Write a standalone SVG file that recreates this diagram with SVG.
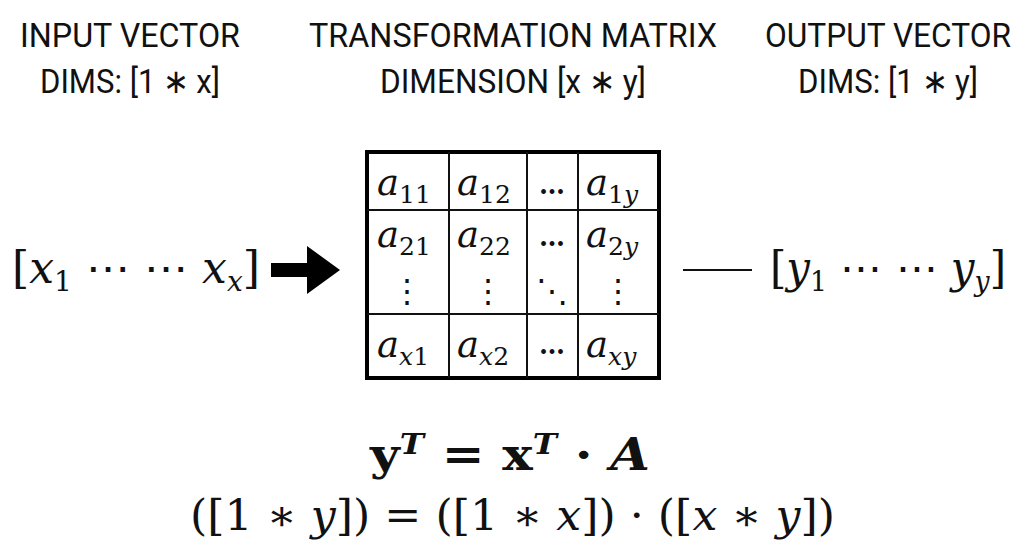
<svg xmlns="http://www.w3.org/2000/svg" width="1024" height="559" viewBox="0 0 1024 559">
<style>
.h{font-family:Roboto,"Liberation Sans",sans-serif;font-size:34px;fill:#111;text-anchor:middle}
.m{font-family:"DejaVu Serif",serif;font-style:italic;fill:#111}
.c{font-size:37px}
.s{font-size:25px}
.g{fill:none;stroke:#111;stroke-width:2}
</style>
<rect width="1024" height="559" fill="#fff"/>
<g id="input-label"><text class="h" x="130" y="47" textLength="220" lengthAdjust="spacingAndGlyphs">INPUT VECTOR</text><text class="h" x="130" y="93" textLength="180" lengthAdjust="spacingAndGlyphs">DIMS: [1 ∗ x]</text></g>
<g id="matrix-label"><text class="h" x="513" y="47" textLength="408" lengthAdjust="spacingAndGlyphs">TRANSFORMATION MATRIX</text><text class="h" x="513" y="93" textLength="266" lengthAdjust="spacingAndGlyphs">DIMENSION [x ∗ y]</text></g>
<g id="output-label"><text class="h" x="888" y="47" textLength="246" lengthAdjust="spacingAndGlyphs">OUTPUT VECTOR</text><text class="h" x="888" y="93" textLength="180" lengthAdjust="spacingAndGlyphs">DIMS: [1 ∗ y]</text></g>
<g id="input-vector"><text class="m" x="12" y="283" font-size="44" textLength="248" lengthAdjust="spacingAndGlyphs"><tspan font-style="normal">[</tspan>x<tspan font-size="28" dy="8" font-style="normal">1</tspan><tspan dy="-8" font-style="normal"> ⋯ ⋯ </tspan>x<tspan font-size="28" dy="8">x</tspan><tspan dy="-8" font-style="normal">]</tspan></text></g>
<g id="connectors">
<path d="M271 263 H307 V246 L340 270 L307 294 V277 H271 Z" fill="#000"/>
<line x1="683" y1="270" x2="752" y2="270" stroke="#111" stroke-width="2"/>
</g>
<g id="matrix">
<rect x="367" y="152" width="292" height="226" fill="#fff" stroke="#000" stroke-width="4"/>
<path class="g" d="M449 152V378M527 152V378M578 152V378M367 210H659M367 314H659"/>
<g class="m c">
<text x="377" y="195">a<tspan class="s" dy="8" font-style="normal">11</tspan></text>
<text x="457" y="195">a<tspan class="s" dy="8" font-style="normal">12</tspan></text>
<text x="552" y="194" font-style="normal" font-size="26" font-weight="bold" text-anchor="middle">…</text>
<text x="586" y="195">a<tspan class="s" dy="8" font-style="normal">1</tspan><tspan class="s">y</tspan></text>
<text x="377" y="247">a<tspan class="s" dy="8" font-style="normal">21</tspan></text>
<text x="457" y="247">a<tspan class="s" dy="8" font-style="normal">22</tspan></text>
<text x="552" y="246" font-style="normal" font-size="26" font-weight="bold" text-anchor="middle">…</text>
<text x="586" y="247">a<tspan class="s" dy="8" font-style="normal">2</tspan><tspan class="s">y</tspan></text>
<text x="407" y="302" font-style="normal" font-size="32" text-anchor="middle">⋮</text>
<text x="488" y="302" font-style="normal" font-size="32" text-anchor="middle">⋮</text>
<text x="552" y="302" font-style="normal" font-size="32" text-anchor="middle">⋱</text>
<text x="618" y="302" font-style="normal" font-size="32" text-anchor="middle">⋮</text>
<text x="377" y="357">a<tspan class="s" dy="8">x</tspan><tspan class="s" font-style="normal">1</tspan></text>
<text x="457" y="357">a<tspan class="s" dy="8">x</tspan><tspan class="s" font-style="normal">2</tspan></text>
<text x="552" y="354" font-style="normal" font-size="26" font-weight="bold" text-anchor="middle">…</text>
<text x="586" y="357">a<tspan class="s" dy="8">xy</tspan></text>
</g>
</g>
<g id="output-vector"><text class="m" x="770" y="283" font-size="44" textLength="236" lengthAdjust="spacingAndGlyphs"><tspan font-style="normal">[</tspan>y<tspan font-size="28" dy="8" font-style="normal">1</tspan><tspan dy="-8" font-style="normal"> ⋯ ⋯ </tspan>y<tspan font-size="28" dy="8">y</tspan><tspan dy="-8" font-style="normal">]</tspan></text></g>
<g id="equation">
<text x="370" y="470" font-family="DejaVu Serif,serif" font-size="44" fill="#111" font-weight="bold" textLength="280" lengthAdjust="spacingAndGlyphs">y<tspan font-size="28" dy="-16" font-style="italic">T</tspan><tspan dy="16"> = x</tspan><tspan font-size="28" dy="-16" font-style="italic">T</tspan><tspan dy="16"> · </tspan><tspan font-style="italic">A</tspan></text>
<text x="190" y="530" font-family="DejaVu Serif,serif" font-size="42" fill="#111" textLength="645" lengthAdjust="spacingAndGlyphs">([1 ∗ <tspan font-style="italic">y</tspan>]) = ([1 ∗ <tspan font-style="italic">x</tspan>]) · ([<tspan font-style="italic">x</tspan> ∗ <tspan font-style="italic">y</tspan>])</text>
</g>
</svg>
